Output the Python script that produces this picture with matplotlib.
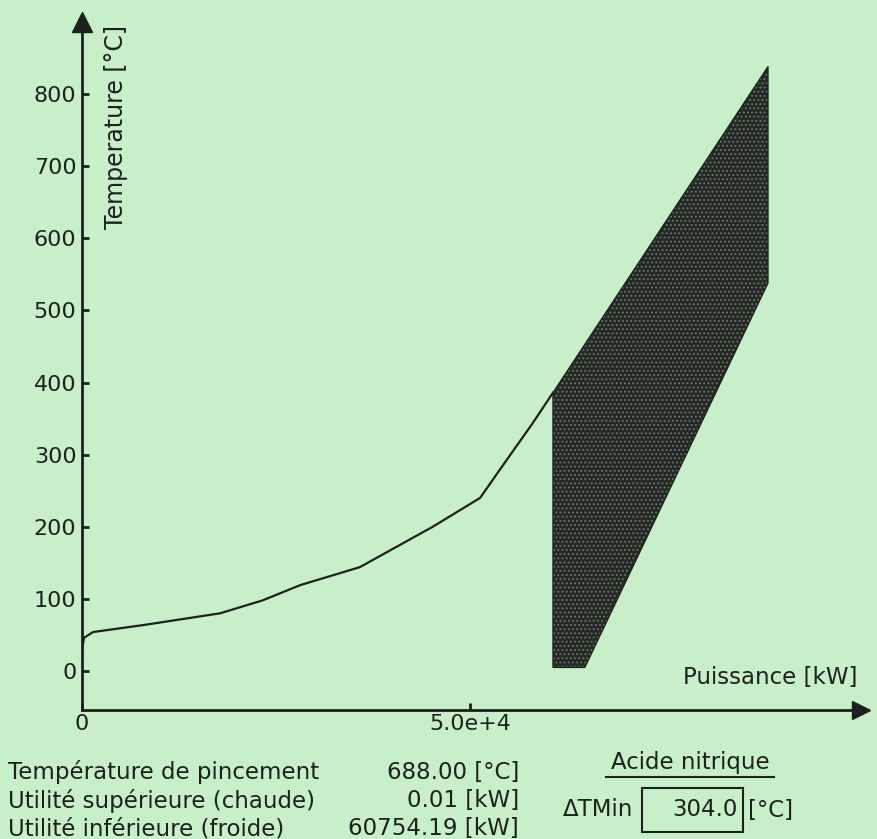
import matplotlib.pyplot as plt
from matplotlib.patches import Rectangle

# composite curve (Puissance [kW], Temperature [°C])
puissance = [0, 260, 1420, 8100, 17800, 23300, 28100, 35800, 45200, 51300, 53900, 58100, 60700]
temperature = [29, 46, 54, 64, 80, 98, 119, 144, 200, 240, 280, 344, 386]

# shaded zone polygon
zone_x = [60700, 88400, 88400, 64800, 60700]
zone_y = [386, 838, 538, 5, 5]

y_ticks = [0, 100, 200, 300, 400, 500, 600, 700, 800]
x_ticks = [0, 50000]
x_tick_labels = ['0', '5.0e+4']

info_labels = ['Température de pincement', 'Utilité supérieure (chaude)', 'Utilité inférieure (froide)']
info_values = ['688.00 [°C]', '0.01 [kW]', '60754.19 [kW]']
dtmin = '304.0'

BG = '#c8efca'
INK = '#1c211c'
W, H = 878, 839


def px(x, y):
    """pixel position (top-left origin) -> figure fraction"""
    return x / W, 1 - y / H


plt.rcParams['font.family'] = 'DejaVu Sans'
plt.rcParams['hatch.linewidth'] = 0.8
fig = plt.figure(figsize=(W / 100, H / 100), dpi=100, facecolor=BG)
ax = fig.add_axes([82 / W, 1 - 710 / H, (861 - 82) / W, (710 - 22) / H])
ax.set_facecolor(BG)
ax.set_xlim(0, 100390)
ax.set_ylim(-54.1, 900)

ax.fill(zone_x, zone_y, facecolor='#262a26', edgecolor='#6c776c', hatch='....', linewidth=0)
ax.plot(zone_x + [zone_x[0]], zone_y + [zone_y[0]], color=INK, lw=1.0)
ax.plot(puissance, temperature, color=INK, lw=1.6)

for side in ['top', 'right']:
    ax.spines[side].set_visible(False)
for side in ['left', 'bottom']:
    ax.spines[side].set_color(INK)
    ax.spines[side].set_linewidth(2)

# arrow heads on the axes
ax.plot(0, 1, '^', transform=ax.transAxes, clip_on=False, color=INK, ms=14)
ax.plot(1, 0, '>', transform=ax.transAxes, clip_on=False, color=INK, ms=13)

ax.set_yticks(y_ticks)
ax.set_xticks(x_ticks)
ax.set_xticklabels(x_tick_labels)
ax.tick_params(axis='both', direction='in', length=5, width=2, colors=INK, labelsize=16)
ax.tick_params(axis='y', pad=4)
ax.tick_params(axis='x', pad=3)

fig.text(*px(116, 25), 'Temperature [°C]', rotation=90, ha='center', va='top', fontsize=17, color=INK)
fig.text(*px(858, 684), 'Puissance [kW]', ha='right', va='baseline', fontsize=16.5, color=INK)

rows = [772, 801, 829]
for lab, val, yy in zip(info_labels, info_values, rows):
    fig.text(*px(8, yy), lab, ha='left', va='center', fontsize=16.5, color=INK)
    fig.text(*px(519, yy), val, ha='right', va='center', fontsize=16.5, color=INK)

fig.text(*px(690, 763), 'Acide nitrique', ha='center', va='center', fontsize=16.5, color=INK)
fig.add_artist(plt.Line2D([px(606, 0)[0], px(774, 0)[0]], [px(0, 777)[1]] * 2, color=INK, lw=1.5))
fig.text(*px(563, 810), 'ΔTMin', ha='left', va='center', fontsize=16.5, color=INK)
fig.add_artist(Rectangle(px(642, 832), 101 / W, 44 / H, fill=False, edgecolor=INK, lw=1.5,
                         transform=fig.transFigure))
fig.text(*px(738, 810), dtmin, ha='right', va='center', fontsize=16.5, color=INK)
fig.text(*px(748, 810), '[°C]', ha='left', va='center', fontsize=16.5, color=INK)

fig.savefig('out.png', dpi=100, facecolor=BG)
